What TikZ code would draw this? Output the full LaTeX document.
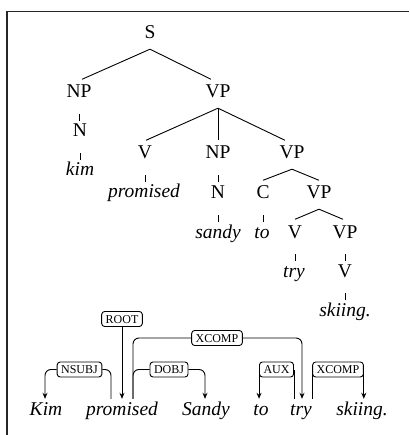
\documentclass[tikz,border=0pt]{standalone}
\usepackage{fontspec}
\setmainfont{Liberation Serif}
\usetikzlibrary{arrows.meta}
\begin{document}
\begin{tikzpicture}[x=1pt,y=-1pt,
  cat/.style={font=\fontsize{19.5}{22}\selectfont, inner xsep=0pt, inner ysep=6pt, text height=12.5pt, text depth=4pt, anchor=base},
  word/.style={cat, font=\fontsize{19.5}{22}\selectfont\itshape},
  dword/.style={font=\fontsize{19.5}{22}\selectfont\itshape, inner xsep=0pt, inner ysep=3pt, text height=13pt, text depth=0pt, anchor=base},
  br/.style={line width=0.9pt},
  un/.style={line width=0.9pt},
  lab/.style={draw, rounded corners=3pt, fill=white, font=\fontsize{12}{14}\selectfont, inner xsep=4pt, inner ysep=3.5pt, text height=8pt, text depth=0pt, line width=0.9pt},
  arc/.style={line width=0.9pt, rounded corners=6pt},
  arr/.style={-{Stealth[length=6pt,width=5pt]}},
  frame/.style={line width=1.3pt, black!85}
]
\useasboundingbox (0,0) rectangle (409,435);
\draw[frame] (7,435) -- (7,11.5) -- (409,11.5);

% constituency tree
\node[cat] (S) at (150,39) {S};
\node[cat] (NP1) at (79,98) {NP};
\node[cat] (VP1) at (218,98) {VP};
\node[cat] (N1) at (80,137) {N};
\node[word] (kim) at (80,176) {kim};
\node[cat] (V1) at (145,159) {V};
\node[cat] (NP2) at (218,159) {NP};
\node[cat] (VP2) at (292,159) {VP};
\node[word] (promised) at (144,198) {promised};
\node[cat] (N2) at (218,199) {N};
\node[word] (sandy) at (218,238) {sandy};
\node[cat] (C) at (263,199) {C};
\node[cat] (VP3) at (319,199) {VP};
\node[word] (to) at (262,238) {to};
\node[cat] (V2) at (295,238) {V};
\node[cat] (VP4) at (345,238) {VP};
\node[word] (try) at (294,277) {try};
\node[cat] (V3) at (345,277) {V};
\node[word] (skiing) at (345,316) {skiing.};

\draw[br] (S.south) -- ([xshift=3pt]NP1.north);
\draw[br] (S.south) -- ([xshift=-7pt]VP1.north);
\draw[br] (VP1.south) -- ([xshift=1pt]V1.north);
\draw[br] (VP1.south) -- (NP2.north);
\draw[br] (VP1.south) -- ([xshift=-7pt]VP2.north);
\draw[br] (VP2.south) -- (C.north);
\draw[br] (VP2.south) -- (VP3.north);
\draw[br] (VP3.south) -- (V2.north);
\draw[br] (VP3.south) -- ([xshift=-2pt]VP4.north);

\draw[un] (NP1.south) ++(0,6) -- ++(0,7);
\draw[un] (N1.south) ++(0,6) -- ++(0,7);
\draw[un] (V1.south) ++(0,6) -- ++(0,7);
\draw[un] (NP2.south) ++(0,6) -- ++(0,7);
\draw[un] (N2.south) ++(0,6) -- ++(0,7);
\draw[un] (C.south) ++(0,6) -- ++(0,7);
\draw[un] (V2.south) ++(0,6) -- ++(0,7);
\draw[un] (VP4.south) ++(0,6) -- ++(0,7);
\draw[un] (V3.south) ++(0,6) -- ++(0,7);

% dependency parse
\node[dword] (dKim) at (46,415) {Kim};
\node[dword] (dpromised) at (122,415) {promised};
\node[dword] (dSandy) at (206,415) {Sandy};
\node[dword] (dto) at (261,415) {to};
\node[dword] (dtry) at (301,415) {try};
\node[dword] (dskiing) at (362,415) {skiing.};

\node[lab] (root) at (122,319) {ROOT};
\node[lab] (xcompA) at (217,338) {XCOMP};
\node[lab] (nsubj) at (79.5,369.5) {NSUBJ};
\node[lab] (dobj) at (169,369.5) {DOBJ};
\node[lab] (aux) at (276.5,369.5) {AUX};
\node[lab] (xcompB) at (338,369.5) {XCOMP};

\draw[arc] ([xshift=-11pt]dpromised.north) |- (nsubj.east);
\draw[arc,arr] (nsubj.west) -| ([xshift=-1pt]dKim.north);
\draw[arc,arr] (root.south) -- (dpromised.north);
\draw[arc] ([xshift=11pt]dpromised.north) |- (xcompA.west);
\draw[arc,arr] (xcompA.east) -| ([xshift=1pt]dtry.north);
\draw[arc] ([xshift=11pt]dpromised.north) |- (dobj.west);
\draw[arc,arr] (dobj.east) -| ([xshift=-1pt]dSandy.north);
\draw[arc] (dtry.north -| aux.east) -- (aux.east);
\draw[arc,arr] (aux.west) -- (dto.north -| aux.west);
\draw[arc] (dtry.north -| xcompB.west) -- (xcompB.west);
\draw[arc,arr] (xcompB.east) -- (dskiing.north -| xcompB.east);
\end{tikzpicture}
\end{document}
